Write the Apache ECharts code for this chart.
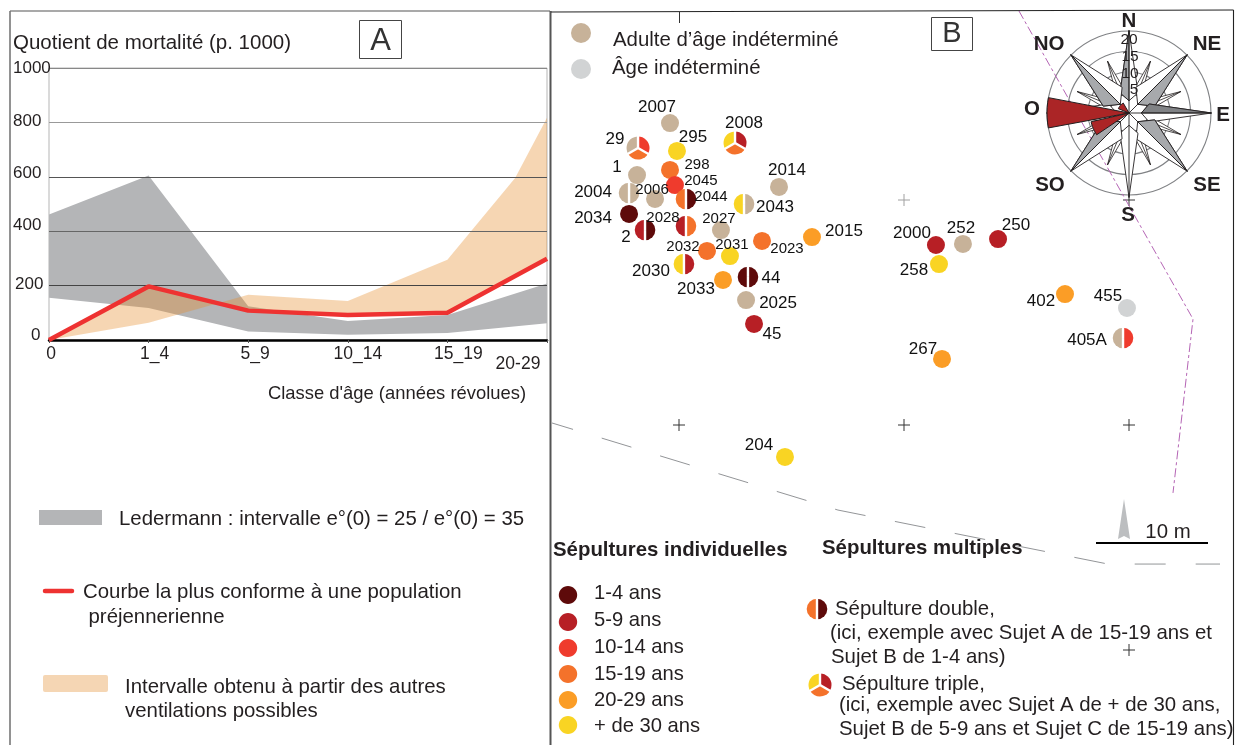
<!DOCTYPE html>
<html><head><meta charset="utf-8">
<style>html,body{margin:0;padding:0;background:#fff}#c{width:1236px;height:745px}</style>
<script src="https://cdn.jsdelivr.net/npm/echarts@6/dist/echarts.min.js"></script>
</head><body><div id="c"></div>
<script>
// ---------- Panel A data ----------
const ageClasses = ['0','1_4','5_9','10_14','15_19','20-29'];
const yTicks = [0,200,400,600,800,1000];
const ledermannLow  = [155,118,31,19,26,62];
const ledermannHigh = [461,605,124,70,92,208];
const courbe        = [0,197,108,92,100,299];
const autresX = [0,1,2,3,4,4.68,5];
const autresY = [0,63,166,143,295,596,817];
// ---------- Panel B data (metres on the site grid) ----------
const tombIds = ['2007','29','295','2008','298','1','2045','2014','2004','2006','2044','2043','2034','2028','2','2027','2015','2023','2032','2031','2030','44','2033','2025','45','2000','252','250','258','402','455','405A','267','204'];
const tombX = [19.2,16.36,19.82,24.98,19.2,16.27,19.64,28.89,15.56,17.87,20.62,25.78,15.56,20.62,16.98,23.73,31.82,27.38,22.49,24.53,20.44,26.13,23.91,25.96,26.67,42.84,45.24,48.36,43.11,54.31,59.82,59.47,43.38,29.42];
const tombY = [46.84,44.62,44.36,45.07,42.67,42.22,41.33,41.16,40.62,40.09,40.09,39.64,38.76,37.69,37.33,37.33,36.71,36.36,35.47,35.02,34.31,33.16,32.89,31.11,28.98,36.0,36.09,36.53,34.31,31.64,30.4,27.73,25.87,17.16];
const tombAges = [['adulte'],['adulte','10-14','15-19'],['30+'],['30+','5-9','15-19'],['15-19'],['adulte'],['10-14'],['adulte'],['adulte','adulte'],['adulte'],['15-19','1-4'],['30+','adulte'],['1-4'],['5-9','15-19'],['5-9','1-4'],['adulte'],['20-29'],['15-19'],['15-19'],['30+'],['30+','5-9'],['1-4','1-4'],['20-29'],['adulte'],['5-9'],['5-9'],['adulte'],['5-9'],['30+'],['20-29'],['indet'],['adulte','10-14'],['20-29'],['30+']];
const gridCrosses = [[40,40],[60,40],[20,20],[40,20],[60,20],[60,0]];
const limiteGrise = [[8.71,20.18],[34.13,12.44],[58.13,7.64],[69.16,7.64]];
const limiteViolette = [[50.22,56.8],[65.69,29.42],[63.91,13.96]];
// ---------- Orientation rose data ----------
const roseWedges = [[259.5,280.8,20],[236,257,9.5],[292,330,2.8]];
const mainDirs = [0,45,90,135,180,225,270,315];
const mainSide = [-1,1,-1,-1,0,1,0,-1];
const secondaryDirs = [22.5,67.5,112.5,157.5,202.5,247.5,292.5,337.5];
const roseNumbers = ['20','15','10','5'];
// ---------- Legend text ----------
const ageLegend = ['1-4','5-9','10-14','15-19','20-29','30+'];
const ageLegendText = ['1-4 ans','5-9 ans','10-14 ans','15-19 ans','20-29 ans','+ de 30 ans'];

// ---------- Styles (label placement etc.) ----------
const ageColor = {'1-4':'#5e0a0a','5-9':'#b71f25','10-14':'#ef3b2d','15-19':'#f4722b','20-29':'#fb9d26','30+':'#f9d423','adulte':'#c7b299','indet':'#d1d3d4'};
const labelDX = [-13,-23,16,9,27,-20,26,8,-36,-3,25,31,-36,-23,-19,-2,32,25,-24,2,-33,23,-27,32,18,-24,-2,18,-25,-24,-19,-36,-19,-26];
const labelDY = [-16,-9,-14,-20,-5,-8,-4,-17,-1,-9,-2,3,4,-8,7,-11,-6,8,-4,-11,7,1,9,3,10,-12,-16,-14,6,7,-12,2,-10,-12];
const smallLabels = ['298','2045','2006','2044','2028','2027','2023','2032','2031'];
const FONT = '"Liberation Sans", Arial, sans-serif';
const MARK_R = [0,9,10.3,11.5];
const TXT = 20.4;

const yShift = {0:[0,0,10,18],200:[0,0,3,2],400:[0,0,11,0],600:[0,0,7,0],800:[0,0,3,0],1000:[0,0,0,0]};
const xShift = {0:[0,0,0,4],1:[0,0,0,12],2:[0,0,0,14],3:[0,0,0,20],4:[0,0,0,22],5:[10,58,0,0]};

function sectorsFor(cx,cy,r,ages){
  const kids=[]; const n=ages.length;
  const sec=(a,b,c)=>({type:'sector',shape:{cx,cy,r0:0,r,startAngle:a,endAngle:b,clockwise:true},style:{fill:c}});
  const gap=(dx,dy,w)=>({type:'line',shape:{x1:cx,y1:cy,x2:cx+dx*(r+1),y2:cy+dy*(r+1)},style:{stroke:'#fff',lineWidth:w}});
  if(n===1){kids.push({type:'circle',shape:{cx,cy,r},style:{fill:ageColor[ages[0]]}});}
  else if(n===2){
    kids.push(sec(Math.PI/2,Math.PI*1.5,ageColor[ages[0]]));
    kids.push(sec(-Math.PI/2,Math.PI/2,ageColor[ages[1]]));
    kids.push(gap(0,-1,2.4),gap(0,1,2.4));
  } else {
    // left, right, bottom
    kids.push(sec(Math.PI*5/6,Math.PI*1.5,ageColor[ages[0]]));
    kids.push(sec(-Math.PI/2,Math.PI/6,ageColor[ages[1]]));
    kids.push(sec(Math.PI/6,Math.PI*5/6,ageColor[ages[2]]));
    kids.push(gap(0,-1,2.4),gap(Math.cos(Math.PI/6),Math.sin(Math.PI/6),2.4),gap(-Math.cos(Math.PI/6),Math.sin(Math.PI/6),2.4));
  }
  return kids;
}
function zip(a,b){return a.map((v,i)=>[v,b[i]]);}
function polygonSeries(name,pts,fill,z){
  return {type:'custom',name,xAxisIndex:0,yAxisIndex:0,z,silent:true,clip:false,data:[[0,0]],
    renderItem:(p,api)=>({type:'polygon',shape:{points:pts.map(q=>api.coord(q))},style:{fill}})};
}
const xIdx = ageClasses.map((_,i)=>i);
const ledermannPts = zip(xIdx,ledermannHigh).concat(zip(xIdx,ledermannLow).reverse());
const autresPts = zip(autresX,autresY).concat(zip(xIdx,courbe).reverse());

const rich = {}; 
yTicks.forEach(v=>{rich['y'+v]={fontFamily:FONT,fontSize:17,color:'#231f20',padding:yShift[v]};});
ageClasses.forEach((_,i)=>{rich['x'+i]={fontFamily:FONT,fontSize:17.5,color:'#231f20',padding:xShift[i]};});

// ---------- Fixed page furniture ----------
const T=(text,x,y,size,o)=>Object.assign({type:'text',x,y:y+1,z:20,style:Object.assign({text,fontFamily:FONT,fontSize:size,fill:'#231f20',align:'left',verticalAlign:'middle'},o||{})});
const L=(x1,y1,x2,y2,stroke,lineWidth)=>({type:'line',z:15,shape:{x1,y1,x2,y2},style:{stroke,lineWidth}});
const graphics=[
  L(10,11,550,11,'#555',1.2),L(10,11,10,745,'#777',1.6),L(550.5,11,550.5,745,'#555',2),
  L(551,12,1233.5,10,'#222',1.1),L(1233.5,10,1233.5,745,'#222',1.1),
  L(679.5,12,679.5,23,'#333',1),
  {type:'rect',z:16,shape:{x:359.5,y:20.5,width:42,height:38},style:{fill:'#fff',stroke:'#444',lineWidth:1}},
  T('A',380.5,40,31,{align:'center',fill:'#333'}),
  {type:'rect',z:16,shape:{x:931.5,y:17.5,width:41,height:33},style:{fill:'#fff',stroke:'#444',lineWidth:1}},
  T('B',952,33,29,{align:'center',fill:'#333'}),
  T('Quotient de mortalité (p. 1000)',13,42,20.5),
  T("Classe d'âge (années révolues)",268,393,18.4),
  {type:'rect',z:15,shape:{x:39,y:510,width:63,height:15},style:{fill:'#b4b5b7'}},
  T('Ledermann : intervalle e°(0) = 25 / e°(0) = 35',119,518,TXT),
  {type:'line',z:15,shape:{x1:45,y1:591,x2:72,y2:591},style:{stroke:'#ee3231',lineWidth:4.5,lineCap:'round'}},
  T('Courbe la plus conforme à une population',83,591,TXT),
  T('préjennerienne',88.5,616,TXT),
  {type:'rect',z:15,shape:{x:43,y:675,width:65,height:17,r:2},style:{fill:'#f5d6b4'}},
  T('Intervalle obtenu à partir des autres',125,686,TXT),
  T('ventilations possibles',125,710,TXT),
  {type:'circle',z:15,shape:{cx:581,cy:33,r:10},style:{fill:ageColor.adulte}},
  {type:'circle',z:15,shape:{cx:581,cy:69,r:10},style:{fill:ageColor.indet}},
  T('Adulte d’âge indéterminé',613,39,TXT),
  T('Âge indéterminé',612,67,TXT),
  T('Sépultures individuelles',553,549,TXT,{fontWeight:'bold'}),
  T('Sépultures multiples',822,547,TXT,{fontWeight:'bold'}),
  T('Sépulture double,',835,608,TXT),
  T('(ici, exemple avec Sujet A de 15-19 ans et',830,632,TXT),
  T('Sujet B de 1-4 ans)',831,656,TXT),
  T('Sépulture triple,',842,683,TXT),
  T('(ici, exemple avec Sujet A de + de 30 ans,',839,704,TXT),
  T('Sujet B de 5-9 ans et Sujet C de 15-19 ans)',839,728,TXT),
  {type:'polygon',z:15,shape:{points:[[1124,499],[1130,539],[1124,536],[1118,539]]},style:{fill:'#bcbec0'}},
  L(1096,543,1208,543,'#000',2),
  T('10 m',1168,531,TXT,{align:'center'}),
];
// compass letters
[['N',1129,20],['NO',1049,43],['NE',1207,43],['O',1032,108],['E',1223,114],['SO',1050,184],['SE',1207,184],['S',1128,214]]
  .forEach(d=>graphics.push(T(d[0],d[1],d[2],20.5,{align:'center',fontWeight:'bold'})));
[[1129,39],[1130,56],[1130,73],[1134,89]].forEach((p,i)=>graphics.push(T(roseNumbers[i],p[0],p[1],15.5,{align:'center'})));
// legend swatches: individual
const legY=[595,622,648,674,700,725];
ageLegend.forEach((k,i)=>{
  graphics.push({type:'ellipse',z:15,shape:{cx:568,cy:legY[i],rx:9.2,ry:9},style:{fill:ageColor[k]}});
  graphics.push(T(ageLegendText[i],594,[592,619,646,673,699,725][i],20.2));
});
sectorsFor(817,609,MARK_R[2],['15-19','1-4']).concat(sectorsFor(820,685,MARK_R[3],['30+','5-9','15-19']))
  .forEach(s=>{s.z=15;graphics.push(s);});

const option={
  animation:false,backgroundColor:'#fff',
  grid:[
    {left:49,top:68,width:498,height:272,show:true,borderColor:'#b5b5b5',borderWidth:1,backgroundColor:'transparent'},
    {left:544,top:20,width:675,height:720,show:false}
  ],
  xAxis:[
    {type:'value',gridIndex:0,min:0,max:5,interval:1,z:3,splitLine:{show:false},
     axisLine:{onZero:false,lineStyle:{color:'#000',width:2.5}},axisTick:{show:true,length:3,lineStyle:{color:'#555'}},
     axisLabel:{margin:5,showMaxLabel:true,showMinLabel:true,hideOverlap:false,formatter:v=>`{x${v}|${ageClasses[v]}}`,rich}},
    {type:'value',gridIndex:1,min:8,max:68,show:false}
  ],
  yAxis:[
    {type:'value',gridIndex:0,min:0,max:1000,interval:200,z:3,
     splitLine:{show:true,lineStyle:{color:['#000','#444','#666','#555','#999','#888'],width:1}},
     axisLine:{show:false},axisTick:{show:false},
     axisLabel:{margin:36,align:'left',showMaxLabel:true,formatter:v=>`{y${v}|${v}}`,rich}},
    {type:'value',gridIndex:1,min:-8,max:56,show:false}
  ],
  polar:{center:[1129,113],radius:82},
  angleAxis:{type:'value',min:0,max:360,startAngle:90,clockwise:true,show:false},
  radiusAxis:{type:'value',min:0,max:20,interval:5,axisLine:{show:false},axisTick:{show:false},axisLabel:{show:false},
    splitLine:{show:true,lineStyle:{color:'#808285',width:1.1}}},
  graphic:graphics,
  series:[
    polygonSeries('Ledermann',ledermannPts,'#b4b5b7',1),
    polygonSeries('Autres ventilations',autresPts,'rgba(230,140,45,0.36)',2),
    {type:'line',name:'Courbe préjennerienne',xAxisIndex:0,yAxisIndex:0,data:zip(xIdx,courbe),showSymbol:false,z:5,clip:false,silent:true,
      lineStyle:{color:'#ee3231',width:4.5,cap:'butt'}},
    {type:'line',name:'Limite',xAxisIndex:1,yAxisIndex:1,data:limiteGrise,showSymbol:false,clip:false,silent:true,z:1,
      lineStyle:{color:'#939598',width:1,type:[31,30],dashOffset:9}},
    {type:'line',name:'Limite fouille',xAxisIndex:1,yAxisIndex:1,data:limiteViolette,showSymbol:false,clip:false,silent:true,z:1,
      lineStyle:{color:'#b565b5',width:1,type:[9,3,3,3]}},
    {type:'custom',name:'Croix',xAxisIndex:1,yAxisIndex:1,data:gridCrosses,clip:false,silent:true,z:1,
      renderItem:(p,api)=>{const c=api.coord([api.value(0),api.value(1)]);const col=(api.value(0)===40&&api.value(1)===40)?'#a0a0a0':'#333';
        return {type:'group',children:[
          {type:'line',shape:{x1:c[0]-6,y1:c[1],x2:c[0]+6,y2:c[1]},style:{stroke:col,lineWidth:1}},
          {type:'line',shape:{x1:c[0],y1:c[1]-6,x2:c[0],y2:c[1]+6},style:{stroke:col,lineWidth:1}}]};}},
    // rose: secondary points
    {type:'custom',name:'Rose secondaire',coordinateSystem:'polar',polarIndex:0,data:secondaryDirs.map(d=>[0,d]),silent:true,z:6,clip:false,
      renderItem:(p,api)=>{const a=api.value(1);
        const tip=api.coord([13.7,a]),l=api.coord([6.5,a-9]),r=api.coord([6.5,a+9]),b=api.coord([4.5,a]);
        return {type:'group',children:[
          {type:'polygon',shape:{points:[b,l,tip,r]},style:{fill:'#fff',stroke:'#231f20',lineWidth:.8}},
          {type:'line',shape:{x1:b[0],y1:b[1],x2:tip[0],y2:tip[1]},style:{stroke:'#231f20',lineWidth:.8}}]};}},
    // rose: main points
    {type:'custom',name:'Rose principale',coordinateSystem:'polar',polarIndex:0,data:mainDirs.map((d,i)=>[mainSide[i],d]),silent:true,z:7,clip:false,
      renderItem:(p,api)=>{const s=api.value(0),a=api.value(1);
        const diag=a%90!==0,nr=diag?6.5:5.4,na=diag?30:24;
        const reach=a===180?20.6:20.1;
        const c=api.coord([0,0]),base=api.coord([3,a]),tip=api.coord([reach,a]),n1=api.coord([nr,a-na]),n2=api.coord([nr,a+na]);
        const kids=[{type:'polygon',shape:{points:[base,n1,tip,n2]},style:{fill:'#fff',stroke:'#231f20',lineWidth:.9}}];
        if(s!==0){const n=s>0?n2:n1;kids.push({type:'polygon',shape:{points:[base,n,tip]},style:{fill:a===90?'#808285':'#a7a9ac',stroke:'#231f20',lineWidth:.9}});}
        kids.push({type:'line',shape:{x1:c[0],y1:c[1],x2:tip[0],y2:tip[1]},style:{stroke:'#231f20',lineWidth:.9}});
        return {type:'group',children:kids};}},
    // rose: measured orientations
    {type:'custom',name:'Orientation',coordinateSystem:'polar',polarIndex:0,data:roseWedges.map(w=>[w[2],w[0],w[1]]),silent:true,z:8,clip:false,
      renderItem:(p,api)=>{const r=api.value(0),a=api.value(1),b=api.value(2);const pts=[api.coord([0,0])];
        for(let i=0;i<=6;i++)pts.push(api.coord([r,a+(b-a)*i/6]));
        return {type:'polygon',shape:{points:pts},style:{fill:'#ab2526',stroke:'#231f20',lineWidth:1}};}},
    // graves
    {type:'custom',name:'Sépultures',xAxisIndex:1,yAxisIndex:1,data:zip(tombX,tombY),clip:false,silent:true,z:9,
      renderItem:(p,api)=>{const c=api.coord([api.value(0),api.value(1)]);const ages=tombAges[p.dataIndex];
        return {type:'group',children:sectorsFor(c[0],c[1],MARK_R[ages.length],ages)};}},
    {type:'custom',name:'Numéros',xAxisIndex:1,yAxisIndex:1,data:zip(tombX,tombY),clip:false,silent:true,z:10,
      renderItem:(p,api)=>{const c=api.coord([api.value(0),api.value(1)]);const id=tombIds[p.dataIndex];
        return {type:'text',x:c[0]+labelDX[p.dataIndex],y:c[1]+labelDY[p.dataIndex],
          style:{text:id,fontFamily:FONT,fontSize:smallLabels.includes(id)?15:17,fill:'#111',align:'center',verticalAlign:'middle'}};}}
  ]
};
const chart=echarts.init(document.getElementById('c'),null,{renderer:'canvas',width:1236,height:745});
chart.setOption(option);
</script></body></html>
